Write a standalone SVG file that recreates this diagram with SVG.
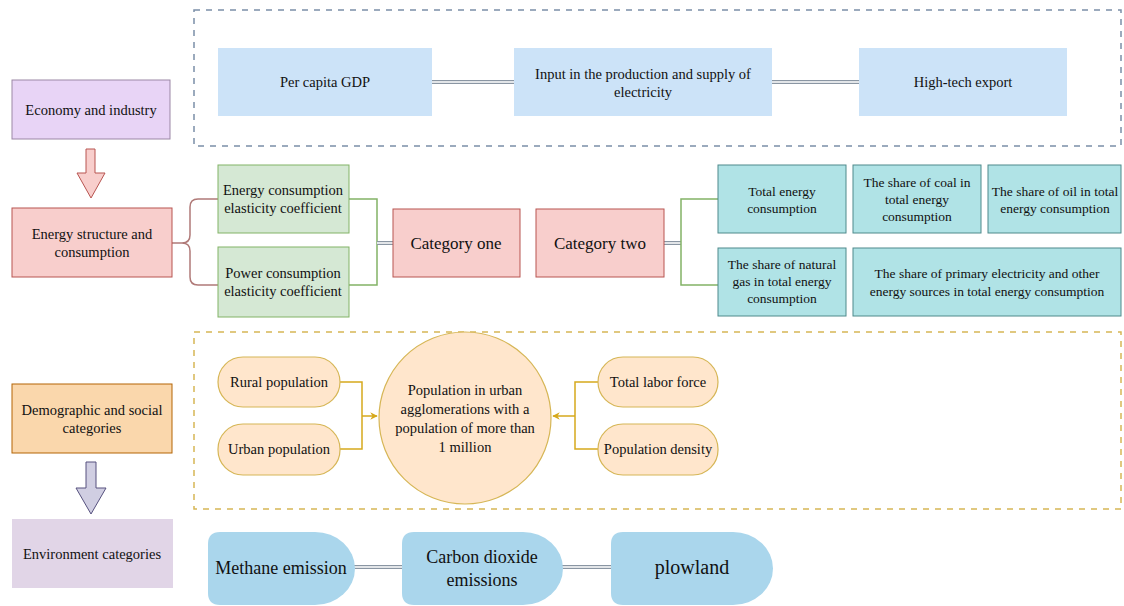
<svg xmlns="http://www.w3.org/2000/svg" width="1124" height="606" viewBox="0 0 1124 606" font-family="'Liberation Serif', 'DejaVu Serif', serif">
<style>
text{font-family:'Liberation Serif','Times New Roman','DejaVu Serif',serif;fill:#111;text-anchor:middle;dominant-baseline:central}
.t14{font-size:14.5px}
.t13{font-size:13.5px}
.blue{fill:#cce3f8;stroke:none}
.green{fill:#d5e8d4;stroke:#82b366;stroke-width:1}
.pink{fill:#f8cecc;stroke:#b85450;stroke-width:1}
.teal{fill:#b0e3e6;stroke:#4f8a8b;stroke-width:1}
.pill{fill:#ffe6cc;stroke:#d6b656;stroke-width:1.2}
.env{fill:#aad6ec;stroke:none}
.dbl-o{fill:none;stroke:#8a96a3;stroke-width:4}
.dbl-i{fill:none;stroke:#fff;stroke-width:1.6}
.gline{fill:none;stroke:#82b366;stroke-width:1.5}
.oline{fill:none;stroke:#d6a91c;stroke-width:1.5}
</style>
<defs>
<marker id="ah" viewBox="0 0 10 10" refX="9" refY="5" markerWidth="5" markerHeight="5" orient="auto">
<path d="M0,0 L10,5 L0,10 L3,5 Z" fill="#d6a91c"/>
</marker>
</defs>
<rect width="1124" height="606" fill="#fff"/>

<!-- dashed containers -->
<rect x="194" y="10" width="927" height="136" fill="none" stroke="#7b8fa8" stroke-width="1.5" stroke-dasharray="6,6"/>
<rect x="194" y="332" width="927" height="177" fill="none" stroke="#d6b656" stroke-width="1.5" stroke-dasharray="6,6"/>

<g id="connectors">
<path class="dbl-o" d="M432,82 H514 M772,82 H859"/>
<path class="dbl-i" d="M432,82 H514 M772,82 H859"/>
<path d="M172,243 H182 Q190,243 190,235 V207 Q190,199 198,199 H218 M190,251 V277 Q190,285 198,285 H218 M182,243 Q190,243 190,251" fill="none" stroke="#b07a78" stroke-width="1.5"/>
<path class="gline" d="M349,199 H377 V285 H349"/>
<path class="dbl-o" d="M377,243 H393 M664,243 H681"/>
<path class="dbl-i" d="M377,243 H393 M664,243 H681"/>
<path class="gline" d="M718,199 H681 V285 H718"/>
<path class="oline" d="M340,382 H362 V449 H340"/>
<path class="oline" d="M362,416 H377" marker-end="url(#ah)"/>
<path class="oline" d="M598,382 H575 V449 H598"/>
<path class="oline" d="M575,416 H553" marker-end="url(#ah)"/>
<path class="dbl-o" d="M352,567 H402 M561,567 H611"/>
<path class="dbl-i" d="M352,567 H402 M561,567 H611"/>
<path d="M86,149 H95 V173 H105 L91,198 L77,173 H86 Z" fill="#f8cecc" stroke="#b85450" stroke-width="1"/>
<path d="M86,462 H96 V488 H106 L91,514 L76,488 H86 Z" fill="#d0cee2" stroke="#56517e" stroke-width="1"/>
</g>

<g id="economy"><rect x="12" y="80" width="158" height="59" fill="#e8d4f6" stroke="#9b87a5" stroke-width="1"/><text class="t14" x="91" y="110">Economy and industry</text></g>
<g id="energy"><rect x="12" y="208" width="160" height="69" class="pink"/><text class="t14" x="92" y="234">Energy structure and</text><text class="t14" x="92" y="252">consumption</text></g>
<g id="demographic"><rect x="12" y="384" width="160" height="69" fill="#fad7ac" stroke="#b46504" stroke-width="1"/><text class="t14" x="92" y="410">Demographic and social</text><text class="t14" x="92" y="428">categories</text></g>
<g id="environment"><rect x="12" y="519" width="161" height="69" fill="#e1d5e7"/><text class="t14" x="92" y="554">Environment  categories</text></g>

<g id="gdp"><rect x="218" y="48" width="214" height="68" class="blue"/><text class="t14" x="325" y="82">Per capita GDP</text></g>
<g id="electricity"><rect x="514" y="48" width="258" height="68" class="blue"/><text class="t14" x="643" y="74">Input in the production and supply of</text><text class="t14" x="643" y="92">electricity</text></g>
<g id="hightech"><rect x="859" y="48" width="208" height="68" class="blue"/><text class="t14" x="963" y="82">High-tech export</text></g>

<g id="ece"><rect x="218" y="165" width="131" height="68" class="green"/><text class="t14" x="283" y="190">Energy consumption</text><text class="t14" x="283" y="208">elasticity coefficient</text></g>
<g id="pce"><rect x="218" y="247" width="131" height="70" class="green"/><text class="t14" x="283" y="273">Power consumption</text><text class="t14" x="283" y="291">elasticity coefficient</text></g>
<g id="cat1"><rect x="393" y="209" width="127" height="68" class="pink"/><text x="456" y="243" font-size="17">Category one</text></g>
<g id="cat2"><rect x="536" y="209" width="128" height="68" class="pink"/><text x="600" y="243" font-size="17">Category two</text></g>
<g id="total"><rect x="718" y="165" width="128" height="68" class="teal"/><text class="t13" x="782" y="191">Total energy</text><text class="t13" x="782" y="208">consumption</text></g>
<g id="coal"><rect x="853" y="165" width="128" height="68" class="teal"/><text class="t13" x="917" y="182">The share of coal in</text><text class="t13" x="917" y="199">total energy</text><text class="t13" x="917" y="216">consumption</text></g>
<g id="oil"><rect x="988" y="165" width="133" height="68" class="teal"/><text class="t13" x="1055" y="191">The share of oil in total</text><text class="t13" x="1055" y="208">energy consumption</text></g>
<g id="gas"><rect x="718" y="248" width="128" height="68" class="teal"/><text class="t13" x="782" y="264">The share of natural</text><text class="t13" x="782" y="281">gas in total energy</text><text class="t13" x="782" y="298">consumption</text></g>
<g id="primary"><rect x="853" y="248" width="268" height="68" class="teal"/><text class="t13" x="987" y="273">The share of primary electricity and other</text><text class="t13" x="987" y="291">energy sources in total energy consumption</text></g>

<g id="rural"><rect x="218" y="357" width="122" height="50" rx="25" class="pill"/><text class="t14" x="279" y="382">Rural population</text></g>
<g id="urban"><rect x="218" y="424" width="122" height="51" rx="25" class="pill"/><text class="t14" x="279" y="449">Urban population</text></g>
<g id="agglo"><circle cx="465" cy="418" r="86" class="pill"/><text class="t14" x="465" y="390">Population in urban</text><text class="t14" x="465" y="409">agglomerations with a</text><text class="t14" x="465" y="428">population of more than</text><text class="t14" x="465" y="447">1 million</text></g>
<g id="labor"><rect x="598" y="357" width="120" height="50" rx="25" class="pill"/><text class="t14" x="658" y="382">Total labor force</text></g>
<g id="density"><rect x="598" y="424" width="120" height="51" rx="25" class="pill"/><text class="t14" x="658" y="449">Population density</text></g>

<g id="methane"><path class="env" d="M220,532 H315 A40,36.5 0 0 1 315,605 H220 Q208,605 208,593 V544 Q208,532 220,532 Z"/><text x="281" y="568" font-size="18">Methane emission</text></g>
<g id="co2"><path class="env" d="M414,532 H523 A40,36.5 0 0 1 523,605 H414 Q402,605 402,593 V544 Q402,532 414,532 Z"/><text x="482" y="557" font-size="18">Carbon dioxide</text><text x="482" y="580" font-size="18">emissions</text></g>
<g id="plowland"><path class="env" d="M623,532 H733 A40,36.5 0 0 1 733,605 H623 Q611,605 611,593 V544 Q611,532 623,532 Z"/><text x="692" y="567" font-size="20">plowland</text></g>
</svg>
